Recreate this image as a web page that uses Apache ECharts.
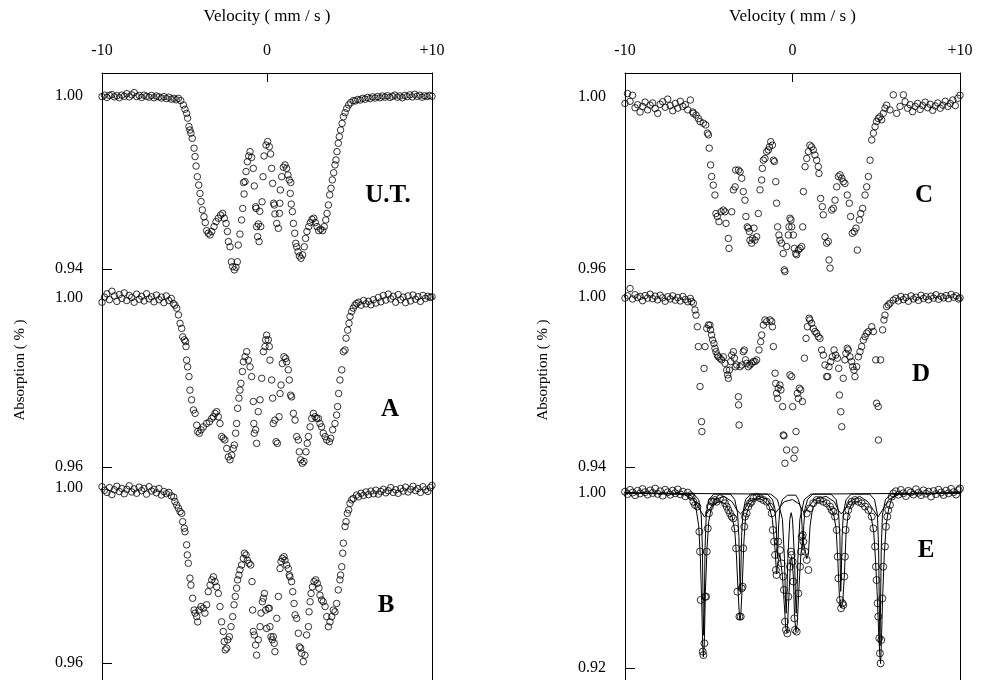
<!DOCTYPE html>
<html>
<head>
<meta charset="utf-8">
<script src="https://cdn.jsdelivr.net/npm/echarts@6/dist/echarts.min.js"></script>
<style>
  html, body { margin: 0; padding: 0; background: #fff; }
  #chart { width: 982px; height: 680px; }
</style>
</head>
<body>
<div id="chart"></div>
<script>
// Mössbauer spectra: absorption vs. source velocity (mm/s)
const velocityTicks = [-10, 0, 10];
const panelNames = ['U.T.', 'A', 'B', 'C', 'D', 'E'];
const upperTicks = [1.00, 1.00, 1.00, 1.00, 1.00, 1.00];
const lowerTicks = [0.94, 0.96, 0.96, 0.96, 0.94, 0.92];

const spectrumUT = [
  [-10.0,0.9998],[-9.85,1.0003],[-9.7,0.9995],[-9.55,1.0002],[-9.4,1.0005],[-9.25,0.9997],[-9.1,1.0001],[-8.95,0.9994],
  [-8.8,1.0003],[-8.65,0.9999],[-8.5,1.0008],[-8.35,0.9997],[-8.2,1.0004],[-8.05,1.0012],[-7.9,0.9998],[-7.75,1.0002],
  [-7.6,0.9995],[-7.45,1.0003],[-7.3,0.9999],[-7.15,0.9996],[-7.0,1.0002],[-6.85,0.9994],[-6.7,1.0000],[-6.55,0.9997],
  [-6.4,0.9993],[-6.25,0.9998],[-6.1,0.9991],[-5.95,0.9996],[-5.8,0.9989],[-5.65,0.9992],[-5.5,0.9987],
  [-5.37,0.9992],[-5.23,0.9984],[-5.07,0.9969],[-4.97,0.9954],[-4.87,0.9940],[-4.81,0.9923],[-4.73,0.9894],[-4.67,0.9882],
  [-4.61,0.9871],[-4.53,0.9853],[-4.42,0.9819],[-4.36,0.9790],[-4.30,0.9757],[-4.22,0.9720],[-4.14,0.9691],[-4.06,0.9662],
  [-4.00,0.9634],[-3.92,0.9605],[-3.82,0.9581],[-3.74,0.9561],[-3.66,0.9533],[-3.56,0.9524],[-3.45,0.9518],[-3.35,0.9530],
  [-3.21,0.9547],[-3.09,0.9564],[-2.95,0.9576],[-2.81,0.9587],[-2.69,0.9593],[-2.59,0.9576],[-2.48,0.9558],[-2.40,0.9530],
  [-2.34,0.9495],[-2.24,0.9477],[-2.16,0.9425],[-2.08,0.9408],[-1.98,0.9397],[-1.88,0.9406],[-1.80,0.9425],[-1.74,0.9483],
  [-1.64,0.9521],[-1.54,0.9570],[-1.47,0.9610],[-1.39,0.9660],[-1.33,0.9703],[-1.27,0.9738],[-1.19,0.9772],[-1.11,0.9792],
  [-1.03,0.9807],[-0.93,0.9787],[-0.83,0.9749],[-0.77,0.9688],[-0.69,0.9616],[-0.63,0.9547],[-0.57,0.9512],[-0.48,0.9495],
  [-0.38,0.9547],[-0.30,0.9633],[-0.24,0.9720],[-0.18,0.9792],[-0.06,0.9830],[0.04,0.9842],[0.14,0.9824],[0.22,0.9799],
  [0.28,0.9749],[0.34,0.9697],[0.40,0.9628],[0.48,0.9591],[0.59,0.9558],[0.69,0.9541],[0.75,0.9593],[0.81,0.9674],
  [0.89,0.9720],[0.99,0.9753],[1.09,0.9761],[1.19,0.9749],[1.27,0.9726],[1.35,0.9709],[1.41,0.9662],[1.47,0.9625],
  [1.54,0.9599],[1.60,0.9558],[1.68,0.9524],[1.74,0.9489],[1.80,0.9477],[1.88,0.9460],[1.96,0.9445],[2.06,0.9437],
  [2.16,0.9449],[2.26,0.9477],[2.34,0.9506],[2.42,0.9530],[2.53,0.9547],[2.63,0.9561],[2.73,0.9572],[2.83,0.9576],
  [2.93,0.9561],[3.03,0.9547],[3.13,0.9533],[3.25,0.9538],[3.37,0.9533],[3.47,0.9547],[3.56,0.9570],[3.64,0.9593],
  [3.72,0.9622],[3.80,0.9657],[3.88,0.9680],[3.96,0.9709],[4.04,0.9734],[4.12,0.9761],[4.18,0.9778],[4.24,0.9807],
  [4.32,0.9836],[4.38,0.9859],[4.46,0.9882],[4.55,0.9905],[4.63,0.9928],[4.73,0.9942],[4.83,0.9957],[4.95,0.9969],
  [5.07,0.9977],[5.23,0.9984],
  [-1.42,0.9700],[-0.66,0.9610],[-0.52,0.9556],[-0.44,0.9600],[0.44,0.9622],[0.78,0.9628],[1.44,0.9700],
  [5.35,0.9983],[5.5,0.9988],[5.65,0.9986],[5.8,0.9992],[5.95,0.9989],[6.1,0.9995],[6.25,0.9991],[6.4,0.9997],
  [6.55,0.9993],[6.7,0.9998],[6.85,0.9994],[7.0,1.0000],[7.15,0.9996],[7.3,1.0001],[7.45,0.9995],[7.6,0.9999],
  [7.75,1.0003],[7.9,0.9996],[8.05,1.0000],[8.2,0.9994],[8.35,1.0002],[8.5,0.9998],[8.65,1.0004],[8.8,0.9997],
  [8.95,1.0006],[9.1,0.9999],[9.25,1.0003],[9.4,0.9996],[9.55,1.0001],[9.7,0.9998],[9.85,1.0002],[10.0,0.9999]
];

const spectrumA = [
  [-10.0,0.9990],[-9.85,1.0002],[-9.7,1.0010],[-9.55,0.9996],[-9.4,1.0016],[-9.25,1.0005],[-9.1,0.9992],[-8.95,1.0008],
  [-8.8,0.9999],[-8.65,1.0012],[-8.5,0.9994],[-8.35,1.0006],[-8.2,1.0001],[-8.05,0.9990],[-7.9,1.0009],[-7.75,0.9997],
  [-7.6,1.0004],[-7.45,0.9993],[-7.3,1.0010],[-7.15,0.9998],[-7.0,1.0003],[-6.85,0.9991],[-6.7,1.0007],[-6.55,0.9996],
  [-6.4,1.0002],[-6.25,0.9989],[-6.1,1.0005],[-5.95,0.9994],[-5.8,0.9999],
  [-5.68,0.9987],[-5.58,0.9983],[-5.47,0.9976],[-5.37,0.9960],[-5.27,0.9940],[-5.17,0.9928],[-5.11,0.9908],[-5.01,0.9901],
  [-4.93,0.9897],[-4.91,0.9885],[-4.87,0.9853],[-4.81,0.9837],[-4.73,0.9814],[-4.67,0.9782],[-4.57,0.9759],[-4.46,0.9735],
  [-4.36,0.9727],[-4.26,0.9699],[-4.20,0.9684],[-4.10,0.9680],[-4.00,0.9688],[-3.86,0.9695],[-3.66,0.9703],[-3.49,0.9707],
  [-3.35,0.9715],[-3.25,0.9719],[-3.15,0.9727],[-3.05,0.9731],[-2.95,0.9719],[-2.85,0.9703],[-2.75,0.9672],[-2.65,0.9668],
  [-2.55,0.9664],[-2.44,0.9644],[-2.34,0.9624],[-2.24,0.9617],[-2.14,0.9628],[-2.04,0.9644],[-1.98,0.9652],[-1.90,0.9680],
  [-1.84,0.9703],[-1.78,0.9739],[-1.70,0.9763],[-1.64,0.9782],[-1.58,0.9798],[-1.49,0.9826],[-1.43,0.9849],[-1.33,0.9861],
  [-1.23,0.9873],[-1.13,0.9853],[-1.03,0.9837],[-0.93,0.9814],[-0.83,0.9755],[-0.80,0.9703],[-0.77,0.9680],[-0.69,0.9688],
  [-0.63,0.9656],[-0.53,0.9731],[-0.42,0.9759],[-0.32,0.9810],[-0.22,0.9873],[-0.12,0.9885],[-0.08,0.9901],[-0.02,0.9912],
  [0.08,0.9901],[0.14,0.9885],[0.18,0.9853],[0.28,0.9806],[0.34,0.9763],[0.38,0.9703],[0.48,0.9711],[0.55,0.9660],
  [0.63,0.9656],[0.73,0.9719],[0.79,0.9774],[0.85,0.9794],[0.93,0.9845],[1.03,0.9861],[1.13,0.9857],[1.19,0.9849],
  [1.29,0.9830],[1.35,0.9806],[1.43,0.9770],[1.49,0.9766],[1.60,0.9727],[1.70,0.9711],[1.80,0.9672],[1.90,0.9664],
  [1.96,0.9636],[2.04,0.9617],[2.14,0.9609],[2.24,0.9613],[2.36,0.9636],[2.44,0.9656],[2.51,0.9672],[2.61,0.9695],
  [2.71,0.9715],[2.81,0.9727],[2.91,0.9719],[3.01,0.9715],[3.11,0.9715],[3.21,0.9703],[3.31,0.9695],[3.41,0.9680],
  [3.52,0.9672],[3.62,0.9664],[3.78,0.9660],[3.86,0.9668],[3.98,0.9688],[4.12,0.9703],[4.22,0.9723],[4.28,0.9743],
  [4.34,0.9774],[4.42,0.9806],[4.53,0.9830],[4.63,0.9873],[4.73,0.9877],[4.79,0.9905],[4.89,0.9924],[4.97,0.9940],
  [5.03,0.9956],[5.13,0.9968],[5.23,0.9976],[5.33,0.9983],[5.43,0.9987],
  [5.55,0.9990],[5.7,0.9983],[5.85,0.9994],[6.0,0.9986],[6.15,0.9992],[6.3,0.9984],[6.45,0.9996],[6.6,0.9988],
  [6.75,1.0001],[6.9,0.9991],[7.05,1.0006],[7.2,0.9995],[7.35,1.0009],[7.5,0.9998],[7.65,1.0004],[7.8,0.9990],
  [7.95,1.0008],[8.1,0.9996],[8.25,1.0002],[8.4,0.9989],[8.55,1.0005],[8.7,0.9993],[8.85,1.0007],[9.0,0.9997],
  [9.15,1.0003],[9.3,0.9992],[9.45,1.0006],[9.6,0.9999],[9.75,1.0004],[9.9,1.0001],[10.0,1.0003]
];

const spectrumB = [
  [-10.0,1.0003],[-9.85,0.9995],[-9.7,0.9990],[-9.55,1.0001],[-9.4,0.9985],[-9.25,0.9996],[-9.1,1.0004],[-8.95,0.9992],
  [-8.8,0.9999],[-8.65,0.9987],[-8.5,0.9997],[-8.35,1.0005],[-8.2,0.9991],[-8.05,0.9998],[-7.9,0.9988],[-7.75,1.0002],
  [-7.6,0.9994],[-7.45,0.9999],[-7.3,0.9986],[-7.15,1.0003],[-7.0,0.9993],[-6.85,0.9997],[-6.7,0.9989],[-6.55,0.9999],
  [-6.4,0.9984],[-6.25,0.9992],[-6.1,0.9987],[-5.95,0.9990],[-5.8,0.9982],[-5.65,0.9979],
  [-5.58,0.9969],[-5.47,0.9961],[-5.37,0.9954],[-5.27,0.9946],[-5.17,0.9942],[-5.11,0.9923],[-5.01,0.9908],[-4.97,0.9900],
  [-4.87,0.9870],[-4.83,0.9847],[-4.77,0.9828],[-4.67,0.9794],[-4.61,0.9778],[-4.51,0.9748],[-4.42,0.9721],[-4.36,0.9714],
  [-4.26,0.9706],[-4.20,0.9694],[-4.12,0.9721],[-4.00,0.9729],[-3.86,0.9725],[-3.76,0.9714],[-3.66,0.9733],[-3.56,0.9763],
  [-3.45,0.9778],[-3.35,0.9790],[-3.25,0.9797],[-3.15,0.9786],[-3.05,0.9774],[-2.95,0.9759],[-2.85,0.9729],[-2.75,0.9694],
  [-2.65,0.9672],[-2.59,0.9649],[-2.53,0.9630],[-2.44,0.9634],[-2.38,0.9653],[-2.28,0.9660],[-2.18,0.9683],[-2.08,0.9706],
  [-2.00,0.9733],[-1.92,0.9752],[-1.84,0.9771],[-1.78,0.9790],[-1.70,0.9801],[-1.64,0.9813],[-1.54,0.9824],[-1.43,0.9839],
  [-1.37,0.9851],[-1.27,0.9847],[-1.19,0.9835],[-1.09,0.9828],[-0.99,0.9824],[-0.91,0.9786],[-0.87,0.9721],[-0.83,0.9672],
  [-0.77,0.9664],[-0.69,0.9641],[-0.63,0.9618],[-0.53,0.9653],[-0.42,0.9683],[-0.36,0.9714],[-0.28,0.9740],[-0.22,0.9748],
  [-0.16,0.9759],[-0.08,0.9721],[-0.02,0.9679],[0.08,0.9725],[0.14,0.9725],[0.18,0.9683],[0.24,0.9660],[0.32,0.9653],
  [0.38,0.9660],[0.44,0.9645],[0.48,0.9626],[0.59,0.9702],[0.69,0.9752],[0.79,0.9816],[0.85,0.9832],[0.93,0.9839],
  [1.03,0.9843],[1.09,0.9835],[1.19,0.9824],[1.29,0.9816],[1.35,0.9801],[1.39,0.9797],[1.49,0.9786],[1.56,0.9763],
  [1.64,0.9736],[1.70,0.9710],[1.80,0.9702],[1.90,0.9668],[1.96,0.9637],[2.04,0.9634],[2.10,0.9622],[2.20,0.9603],
  [2.30,0.9618],[2.40,0.9664],[2.51,0.9683],[2.55,0.9717],[2.61,0.9740],[2.67,0.9759],[2.75,0.9774],[2.85,0.9786],
  [2.95,0.9790],[3.05,0.9782],[3.15,0.9771],[3.21,0.9755],[3.31,0.9744],[3.41,0.9740],[3.52,0.9729],[3.62,0.9706],
  [3.72,0.9683],[3.82,0.9694],[3.92,0.9706],[4.02,0.9721],[4.12,0.9717],[4.22,0.9736],[4.32,0.9767],[4.42,0.9790],
  [4.46,0.9801],[4.53,0.9820],[4.59,0.9851],[4.63,0.9874],[4.73,0.9912],[4.79,0.9923],[4.87,0.9942],[4.95,0.9950],
  [5.03,0.9965],[5.13,0.9973],[5.23,0.9976],[5.43,0.9984],
  [5.55,0.9980],[5.7,0.9988],[5.85,0.9983],[6.0,0.9991],[6.15,0.9985],[6.3,0.9993],[6.45,0.9987],[6.6,0.9995],
  [6.75,0.9986],[6.9,0.9992],[7.05,0.9997],[7.2,0.9989],[7.35,0.9994],[7.5,1.0001],[7.65,0.9990],[7.8,0.9996],
  [7.95,0.9988],[8.1,0.9999],[8.25,0.9993],[8.4,1.0002],[8.55,0.9991],[8.7,0.9997],[8.85,1.0004],[9.0,0.9994],
  [9.15,0.9999],[9.3,0.9990],[9.45,1.0003],[9.6,0.9996],[9.75,0.9992],[9.9,1.0001],[10.0,1.0006]
];

const spectrumC = [
  [-10.0,0.9985],[-9.85,1.0008],[-9.7,0.9990],[-9.55,1.0004],[-9.4,0.9975],[-9.25,0.9982],[-9.1,0.9965],[-8.95,0.9978],
  [-8.8,0.9988],[-8.65,0.9970],[-8.5,0.9981],[-8.35,0.9986],[-8.2,0.9973],[-8.05,0.9962],[-7.9,0.9983],[-7.75,0.9989],
  [-7.6,0.9976],[-7.45,0.9995],[-7.3,0.9980],[-7.15,0.9968],[-7.0,0.9985],[-6.85,0.9974],[-6.7,0.9990],[-6.55,0.9978],
  [-6.4,0.9982],[-6.25,0.9970],[-6.1,0.9993],[-5.95,0.9965],
  [-5.92,0.9962],[-5.76,0.9958],[-5.62,0.9950],[-5.52,0.9943],[-5.32,0.9939],[-5.18,0.9935],[-5.08,0.9916],[-5.02,0.9912],
  [-4.97,0.9881],[-4.89,0.9842],[-4.83,0.9815],[-4.73,0.9795],[-4.63,0.9772],[-4.57,0.9729],[-4.49,0.9722],[-4.39,0.9710],
  [-4.27,0.9733],[-4.13,0.9737],[-4.03,0.9733],[-3.97,0.9706],[-3.83,0.9671],[-3.79,0.9648],[-3.63,0.9733],[-3.53,0.9784],
  [-3.43,0.9791],[-3.39,0.9830],[-3.23,0.9830],[-3.13,0.9826],[-3.03,0.9811],[-2.94,0.9780],[-2.84,0.9760],[-2.78,0.9722],
  [-2.70,0.9698],[-2.64,0.9695],[-2.58,0.9687],[-2.54,0.9667],[-2.44,0.9660],[-2.38,0.9671],[-2.30,0.9695],[-2.24,0.9667],
  [-2.14,0.9675],[-2.04,0.9729],[-1.94,0.9784],[-1.84,0.9807],[-1.80,0.9834],[-1.74,0.9853],[-1.64,0.9857],[-1.54,0.9873],
  [-1.44,0.9877],[-1.38,0.9884],[-1.30,0.9896],[-1.20,0.9888],[-1.14,0.9853],[-1.08,0.9850],[-1.00,0.9803],[-0.95,0.9753],
  [-0.89,0.9698],[-0.81,0.9679],[-0.75,0.9667],[-0.65,0.9660],[-0.55,0.9636],[-0.49,0.9598],[-0.45,0.9594],[-0.35,0.9652],
  [-0.25,0.9679],[-0.21,0.9698],[-0.15,0.9718],[-0.09,0.9714],[-0.05,0.9698],[0.05,0.9679],[0.11,0.9648],[0.19,0.9636],
  [0.25,0.9633],[0.35,0.9644],[0.45,0.9648],[0.55,0.9652],[0.61,0.9698],[0.65,0.9780],[0.75,0.9838],[0.85,0.9857],
  [0.95,0.9873],[1.04,0.9888],[1.14,0.9884],[1.24,0.9877],[1.34,0.9865],[1.44,0.9853],[1.54,0.9838],[1.58,0.9822],
  [1.68,0.9764],[1.78,0.9745],[1.84,0.9726],[1.94,0.9675],[2.04,0.9660],[2.14,0.9664],[2.18,0.9621],[2.24,0.9602],
  [2.34,0.9737],[2.44,0.9741],[2.54,0.9760],[2.64,0.9791],[2.74,0.9815],[2.84,0.9819],[2.94,0.9811],[3.03,0.9803],
  [3.13,0.9799],[3.27,0.9772],[3.39,0.9753],[3.47,0.9722],[3.57,0.9683],[3.69,0.9687],[3.79,0.9695],[3.87,0.9644],
  [3.99,0.9714],[4.07,0.9729],[4.19,0.9741],[4.33,0.9772],[4.43,0.9791],[4.53,0.9815],[4.63,0.9853],[4.73,0.9900],
  [4.83,0.9916],[4.93,0.9931],[5.02,0.9943],[5.12,0.9950],[5.22,0.9954],[5.32,0.9947],[5.42,0.9962],[5.52,0.9974],
  [5.62,0.9981],[5.82,0.9970],[6.02,1.0005],[6.22,0.9962],[6.42,0.9978],[6.62,1.0005],
  [6.72,0.9989],[6.87,0.9974],[7.02,0.9982],[7.17,0.9966],[7.32,0.9978],[7.47,0.9985],[7.62,0.9971],[7.77,0.9980],
  [7.92,0.9988],[8.07,0.9975],[8.22,0.9983],[8.37,0.9969],[8.52,0.9979],[8.67,0.9986],[8.82,0.9974],[8.97,0.9981],
  [9.12,0.9990],[9.27,0.9978],[9.42,0.9985],[9.57,0.9993],[9.72,0.9980],[9.87,0.9997],[10.0,1.0004]
];

const spectrumD = [
  [-10.0,0.9996],[-9.85,1.0004],[-9.7,1.0030],[-9.55,0.9993],[-9.4,1.0008],[-9.25,0.9998],[-9.1,1.0002],[-8.95,0.9987],
  [-8.8,1.0005],[-8.65,0.9996],[-8.5,1.0010],[-8.35,0.9994],[-8.2,1.0003],[-8.05,0.9990],[-7.9,1.0006],[-7.75,0.9997],
  [-7.6,0.9985],[-7.45,1.0001],[-7.3,0.9993],[-7.15,1.0004],[-7.0,0.9989],[-6.85,0.9998],[-6.7,0.9986],[-6.55,1.0002],
  [-6.4,0.9991],[-6.25,0.9983],[-6.1,0.9995],
  [-6.02,0.9984],[-5.92,0.9978],[-5.82,0.9954],[-5.76,0.9936],[-5.68,0.9895],[-5.62,0.9825],[-5.52,0.9684],[-5.43,0.9560],
  [-5.41,0.9525],[-5.28,0.9748],[-5.22,0.9825],[-5.12,0.9889],[-5.02,0.9901],[-4.93,0.9901],[-4.89,0.9884],[-4.83,0.9866],
  [-4.77,0.9848],[-4.69,0.9836],[-4.63,0.9819],[-4.57,0.9807],[-4.49,0.9795],[-4.43,0.9789],[-4.33,0.9784],[-4.23,0.9778],
  [-4.13,0.9789],[-4.03,0.9766],[-3.93,0.9742],[-3.87,0.9725],[-3.83,0.9713],[-3.77,0.9742],[-3.69,0.9772],[-3.63,0.9795],
  [-3.53,0.9807],[-3.47,0.9784],[-3.41,0.9754],[-3.33,0.9760],[-3.23,0.9648],[-3.22,0.9619],[-3.19,0.9548],[-3.13,0.9754],
  [-3.03,0.9760],[-2.94,0.9807],[-2.88,0.9813],[-2.80,0.9778],[-2.74,0.9766],[-2.64,0.9754],[-2.54,0.9760],[-2.44,0.9766],
  [-2.34,0.9772],[-2.24,0.9772],[-2.14,0.9778],[-2.00,0.9813],[-1.90,0.9842],[-1.84,0.9866],[-1.74,0.9901],[-1.64,0.9919],
  [-1.54,0.9913],[-1.34,0.9919],[-1.24,0.9913],[-1.20,0.9895],[-1.14,0.9825],[-1.04,0.9731],[-1.00,0.9695],[-0.95,0.9660],
  [-0.89,0.9642],[-0.85,0.9678],[-0.75,0.9689],[-0.69,0.9672],[-0.59,0.9613],[-0.55,0.9513],[-0.51,0.9510],[-0.45,0.9413],
  [-0.35,0.9460],[-0.15,0.9725],[-0.05,0.9719],[0.01,0.9613],[0.09,0.9431],[0.15,0.9460],[0.21,0.9525],[0.29,0.9660],
  [0.35,0.9642],[0.41,0.9678],[0.49,0.9672],[0.59,0.9631],[0.71,0.9784],[0.81,0.9854],[0.89,0.9895],[0.99,0.9925],
  [1.04,0.9919],[1.14,0.9907],[1.24,0.9889],[1.34,0.9878],[1.44,0.9872],[1.54,0.9860],[1.64,0.9854],[1.74,0.9813],
  [1.84,0.9795],[1.94,0.9760],[2.04,0.9719],[2.10,0.9719],[2.18,0.9754],[2.28,0.9772],[2.38,0.9789],[2.48,0.9813],
  [2.58,0.9795],[2.68,0.9784],[2.76,0.9748],[2.80,0.9654],[2.88,0.9595],[2.94,0.9542],[3.03,0.9713],[3.13,0.9778],
  [3.19,0.9801],[3.27,0.9819],[3.33,0.9813],[3.43,0.9789],[3.53,0.9772],[3.59,0.9754],[3.67,0.9742],[3.73,0.9719],
  [3.83,0.9754],[3.93,0.9789],[4.03,0.9807],[4.13,0.9825],[4.23,0.9848],[4.33,0.9860],[4.43,0.9872],[4.53,0.9878],
  [4.73,0.9895],[4.83,0.9878],[4.97,0.9778],[5.02,0.9625],[5.12,0.9613],[5.13,0.9495],[5.26,0.9778],[5.38,0.9884],
  [5.46,0.9919],[5.52,0.9936],[5.62,0.9966],[5.72,0.9972],[5.82,0.9978],[6.02,0.9989],
  [6.17,0.9995],[6.32,0.9986],[6.47,1.0002],[6.62,0.9991],[6.77,0.9998],[6.92,0.9985],[7.07,1.0004],[7.22,0.9993],
  [7.37,0.9999],[7.52,0.9988],[7.67,1.0006],[7.82,0.9995],[7.97,1.0001],[8.12,0.9990],[8.27,1.0003],[8.42,0.9996],
  [8.57,1.0008],[8.72,0.9992],[8.87,1.0002],[9.02,0.9997],[9.17,1.0005],[9.32,0.9994],[9.47,1.0009],[9.62,0.9999],
  [9.77,1.0004],[9.92,0.9993],[10.0,0.9997]
];

const spectrumE = [
  [-10.0,1.0006],[-9.85,0.9995],[-9.7,1.0014],[-9.55,1.0002],[-9.4,0.9990],[-9.25,1.0010],[-9.1,0.9998],[-8.95,1.0018],
  [-8.8,1.0004],[-8.65,0.9993],[-8.5,1.0012],[-8.35,1.0000],[-8.2,1.0020],[-8.05,0.9996],[-7.9,1.0008],[-7.75,0.9988],
  [-7.6,1.0015],[-7.45,1.0003],[-7.3,0.9992],[-7.15,1.0011],[-7.0,0.9999],[-6.85,1.0016],[-6.7,0.9994],[-6.55,1.0006],
  [-6.4,0.9985],[-6.25,1.0002],[-6.1,0.9990],
  [-6.02,0.9983],[-5.92,0.9960],[-5.82,0.9945],[-5.68,0.9938],[-5.56,0.9823],[-5.52,0.9732],[-5.48,0.9511],[-5.36,0.9275],
  [-5.32,0.9259],[-5.26,0.9313],[-5.22,0.9526],[-5.16,0.9526],[-5.12,0.9732],[-5.06,0.9838],[-4.99,0.9907],[-4.93,0.9938],
  [-4.83,0.9960],[-4.73,0.9960],[-4.63,0.9968],[-4.53,0.9960],[-4.33,0.9976],[-4.13,0.9968],[-4.03,0.9953],[-3.93,0.9938],
  [-3.83,0.9922],[-3.73,0.9907],[-3.63,0.9892],[-3.53,0.9884],[-3.43,0.9838],[-3.37,0.9747],[-3.29,0.9549],[-3.17,0.9435],
  [-3.09,0.9435],[-3.03,0.9564],[-2.98,0.9572],[-2.94,0.9747],[-2.88,0.9846],[-2.84,0.9892],[-2.74,0.9907],[-2.64,0.9938],
  [-2.54,0.9953],[-2.44,0.9960],[-2.34,0.9976],[-2.14,0.9983],[-1.94,0.9976],[-1.74,0.9968],[-1.54,0.9960],[-1.34,0.9938],
  [-1.24,0.9907],[-1.18,0.9831],[-1.10,0.9778],[-1.04,0.9717],[-0.99,0.9648],[-0.95,0.9625],[-0.85,0.9778],[-0.75,0.9739],
  [-0.65,0.9678],[-0.55,0.9618],[-0.51,0.9557],[-0.45,0.9412],[-0.39,0.9374],[-0.31,0.9358],[-0.25,0.9526],[-0.15,0.9663],
  [-0.09,0.9732],[-0.05,0.9717],[0.01,0.9686],[0.05,0.9595],[0.11,0.9427],[0.15,0.9374],[0.25,0.9366],[0.35,0.9541],
  [0.45,0.9663],[0.51,0.9732],[0.55,0.9800],[0.61,0.9808],[0.65,0.9778],[0.75,0.9732],[0.85,0.9694],[0.95,0.9648],
  [0.85,0.9907],[1.04,0.9930],[1.24,0.9953],[1.44,0.9968],[1.64,0.9968],[1.84,0.9960],[2.04,0.9953],[2.24,0.9938],
  [2.34,0.9922],[2.44,0.9915],[2.54,0.9892],[2.64,0.9831],[2.70,0.9709],[2.74,0.9610],[2.84,0.9511],[2.90,0.9473],
  [2.98,0.9496],[3.03,0.9488],[3.09,0.9618],[3.13,0.9709],[3.17,0.9831],[3.23,0.9892],[3.33,0.9922],[3.43,0.9945],
  [3.53,0.9960],[3.73,0.9968],[3.93,0.9960],[4.13,0.9953],[4.33,0.9938],[4.53,0.9922],[4.73,0.9892],[4.83,0.9838],
  [4.93,0.9755],[4.98,0.9663],[5.02,0.9602],[5.08,0.9496],[5.12,0.9435],[5.18,0.9336],[5.22,0.9267],[5.26,0.9221],
  [5.30,0.9328],[5.36,0.9518],[5.42,0.9663],[5.52,0.9755],[5.58,0.9846],[5.66,0.9892],[5.72,0.9922],[5.82,0.9945],
  [5.92,0.9983],[6.02,0.9998],
  [6.17,1.0008],[6.32,0.9992],[6.47,1.0014],[6.62,0.9999],[6.77,0.9986],[6.92,1.0010],[7.07,1.0003],[7.22,0.9993],
  [7.37,1.0017],[7.52,1.0001],[7.67,0.9990],[7.82,1.0012],[7.97,0.9997],[8.12,1.0006],[8.27,0.9984],[8.42,1.0009],
  [8.57,0.9995],[8.72,1.0015],[8.87,1.0002],[9.02,0.9991],[9.17,1.0011],[9.32,0.9999],[9.47,1.0019],[9.62,1.0004],
  [9.77,0.9993],[9.92,1.0013],[10.0,1.0021]
];

// Fitted envelope for spectrum E and its sub-spectra
const fitTotalE = [
  [-10,1.000],[-6.2,0.9995],[-6.0,0.9985],[-5.8,0.995],[-5.6,0.985],[-5.5,0.970],[-5.42,0.950],[-5.36,0.930],[-5.32,0.925],
  [-5.27,0.930],[-5.2,0.955],[-5.1,0.975],[-5.0,0.987],[-4.85,0.993],[-4.6,0.9955],[-4.3,0.996],[-4.0,0.995],[-3.8,0.992],
  [-3.6,0.989],[-3.45,0.983],[-3.35,0.972],[-3.25,0.955],[-3.17,0.944],[-3.13,0.942],[-3.08,0.945],[-3.0,0.958],[-2.9,0.978],
  [-2.8,0.989],[-2.6,0.994],[-2.3,0.997],[-2.0,0.9975],[-1.7,0.9965],[-1.4,0.994],[-1.2,0.988],[-1.05,0.975],[-0.95,0.963],
  [-0.88,0.968],[-0.75,0.972],[-0.6,0.962],[-0.5,0.950],[-0.4,0.938],[-0.32,0.936],[-0.22,0.952],[-0.12,0.968],[-0.05,0.971],
  [0.05,0.962],[0.12,0.944],[0.2,0.9365],[0.28,0.940],[0.38,0.956],[0.5,0.972],[0.6,0.979],[0.7,0.976],[0.85,0.970],
  [0.95,0.972],[1.05,0.985],[1.2,0.993],[1.5,0.9965],[1.9,0.996],[2.2,0.994],[2.45,0.9905],[2.6,0.984],[2.7,0.970],
  [2.8,0.953],[2.9,0.9475],[3.0,0.950],[3.1,0.963],[3.2,0.982],[3.35,0.992],[3.6,0.996],[4.0,0.996],[4.4,0.9935],
  [4.7,0.989],[4.85,0.982],[4.95,0.970],[5.05,0.955],[5.15,0.935],[5.22,0.925],[5.26,0.922],[5.3,0.930],[5.38,0.952],
  [5.48,0.972],[5.6,0.986],[5.75,0.993],[5.95,0.998],[6.2,0.9995],[10,1.000]
];
const fitSextetE = [
  [-10,1.000],[-5.9,0.9995],[-5.6,0.997],[-5.45,0.990],[-5.38,0.975],[-5.33,0.945],[-5.30,0.935],[-5.27,0.945],[-5.22,0.975],
  [-5.15,0.990],[-5.0,0.997],[-4.7,0.9995],[-3.7,0.9995],[-3.45,0.997],[-3.28,0.991],[-3.2,0.980],[-3.15,0.962],[-3.12,0.955],
  [-3.09,0.962],[-3.04,0.980],[-2.96,0.991],[-2.8,0.997],[-2.5,0.9995],[-1.5,0.9995],[-1.2,0.997],[-1.05,0.993],[-0.97,0.985],
  [-0.92,0.974],[-0.90,0.970],[-0.88,0.974],[-0.83,0.985],[-0.75,0.993],[-0.6,0.997],[-0.3,0.999],[0.2,0.999],[0.35,0.997],
  [0.5,0.993],[0.57,0.985],[0.6,0.977],[0.62,0.975],[0.64,0.977],[0.67,0.985],[0.75,0.993],[0.9,0.997],[1.2,0.9995],
  [2.3,0.9995],[2.6,0.997],[2.75,0.991],[2.83,0.980],[2.86,0.962],[2.88,0.955],[2.91,0.962],[2.96,0.980],[3.04,0.991],
  [3.2,0.997],[3.5,0.9995],[4.6,0.9995],[4.9,0.997],[5.07,0.990],[5.14,0.975],[5.19,0.945],[5.22,0.930],[5.25,0.945],
  [5.30,0.975],[5.37,0.990],[5.55,0.997],[5.9,0.9995],[10,1.000]
];
const fitDoubletE = [
  [-10,1.000],[-1.3,0.9995],[-0.9,0.997],[-0.6,0.988],[-0.48,0.970],[-0.42,0.952],[-0.38,0.945],[-0.34,0.952],[-0.28,0.970],
  [-0.16,0.988],[-0.08,0.991],[0.0,0.988],[0.12,0.970],[0.18,0.952],[0.22,0.945],[0.26,0.952],[0.32,0.970],[0.44,0.988],
  [0.7,0.997],[1.1,0.9995],[10,1.000]
];
const fitBroadE = [
  [-10,1.000],[-6.5,0.9995],[-5.9,0.997],[-5.5,0.992],[-5.25,0.989],[-5.0,0.992],[-4.6,0.997],[-4.1,0.9985],[-3.6,0.996],
  [-3.3,0.992],[-3.1,0.9905],[-2.9,0.992],[-2.6,0.996],[-2.0,0.9985],[-1.5,0.997],[-1.2,0.993],[-1.0,0.991],[-0.8,0.993],
  [-0.5,0.996],[0,0.997],[0.4,0.995],[0.6,0.992],[0.75,0.991],[0.9,0.993],[1.3,0.997],[2.0,0.9985],[2.5,0.996],
  [2.75,0.992],[2.9,0.9905],[3.1,0.992],[3.4,0.996],[4.0,0.9985],[4.5,0.996],[4.85,0.992],[5.1,0.989],[5.35,0.992],
  [5.75,0.997],[6.4,0.9995],[10,1.000]
];

const spectra = [spectrumUT, spectrumA, spectrumB, spectrumC, spectrumD, spectrumE];

// Panel frames: left / right columns, three stacked rows each
const SERIF = '"Liberation Serif", "DejaVu Serif", serif';
const columns = [{ left: 102, width: 330 }, { left: 625, width: 335 }];
const rows = [{ top: 73, height: 210 }, { top: 283, height: 195 }, { top: 478, height: 202 }];
const yRanges = [
  [0.93514, 1.00798], [0.95740, 1.00355], [0.95611, 1.00229],
  [0.95674, 1.00558], [0.93611, 1.00494], [0.91451, 1.00686]
];
const letterPos = [[388, 196], [390, 410], [386, 606], [924, 196], [921, 375], [926, 551]];

const grids = [], xAxes = [], yAxes = [], series = [];
for (let i = 0; i < 6; i++) {
  const col = columns[Math.floor(i / 3)];
  const row = rows[i % 3];
  grids.push({ left: col.left, width: col.width, top: row.top, height: row.height, outerBoundsMode: 'none', containLabel: false });
  const isTop = i % 3 === 0;
  xAxes.push({
    gridIndex: i, type: 'value', min: velocityTicks[0], max: velocityTicks[2], interval: 10,
    position: 'top', show: isTop,
    name: isTop ? 'Velocity ( mm / s )' : '', nameLocation: 'middle', nameGap: 48,
    nameTextStyle: { fontFamily: SERIF, fontSize: 17, color: '#000' },
    axisLine: { show: true, onZero: false, lineStyle: { color: '#000', width: 1 } },
    axisTick: { show: true, inside: true, length: 9, lineStyle: { color: '#000' } },
    axisLabel: {
      show: true, margin: 14, fontFamily: SERIF, fontSize: 16, color: '#000',
      showMinLabel: true, showMaxLabel: true,
      formatter: v => (v > 0 ? '+' + v : String(v))
    },
    splitLine: { show: false }
  });
  const lo = lowerTicks[i], hi = upperTicks[i];
  yAxes.push({
    gridIndex: i, type: 'value', min: yRanges[i][0], max: yRanges[i][1], position: 'left',
    axisLine: { show: true, onZero: false, lineStyle: { color: '#000', width: 1 } },
    axisTick: { show: true, inside: true, length: 10, customValues: [lo], lineStyle: { color: '#000' } },
    axisLabel: {
      show: true, margin: 19, customValues: [lo, hi],
      fontFamily: SERIF, fontSize: 16, color: '#000',
      formatter: v => v.toFixed(2)
    },
    splitLine: { show: false }
  });
  yAxes.push({
    gridIndex: i, type: 'value', min: yRanges[i][0], max: yRanges[i][1], position: 'right',
    axisLine: { show: true, onZero: false, lineStyle: { color: '#000', width: 1 } },
    axisTick: { show: false }, axisLabel: { show: false }, splitLine: { show: false }
  });
}

const lineStyleFit = { color: '#000', width: 1 };
[fitTotalE, fitSextetE, fitDoubletE, fitBroadE].forEach(fit => {
  series.push({
    type: 'line', xAxisIndex: 5, yAxisIndex: 10, data: fit,
    showSymbol: false, symbol: 'none', lineStyle: lineStyleFit, silent: true, z: 2
  });
});
spectra.forEach((pts, i) => {
  series.push({
    type: 'scatter', xAxisIndex: i, yAxisIndex: i * 2, data: pts,
    symbol: 'circle', symbolSize: i === 5 ? 7 : 6.5,
    itemStyle: { color: 'rgba(255,255,255,0)', borderColor: '#000', borderWidth: 1 },
    silent: true, z: 3
  });
});

const graphics = panelNames.map((name, i) => ({
  type: 'text', x: letterPos[i][0], y: letterPos[i][1],
  style: { text: name, font: 'bold 25px ' + SERIF, fill: '#000', align: 'center', verticalAlign: 'middle' }
}));
[20, 543].forEach(x => graphics.push({
  type: 'text', x: x, y: 370, rotation: Math.PI / 2,
  style: { text: 'Absorption ( % )', font: '15px ' + SERIF, fill: '#000', align: 'center', verticalAlign: 'middle' }
}));

const chart = echarts.init(document.getElementById('chart'), null, { renderer: 'canvas' });
chart.setOption({
  animation: false,
  backgroundColor: '#fff',
  grid: grids,
  xAxis: xAxes,
  yAxis: yAxes,
  series: series,
  graphic: graphics
});
</script>
</body>
</html>
